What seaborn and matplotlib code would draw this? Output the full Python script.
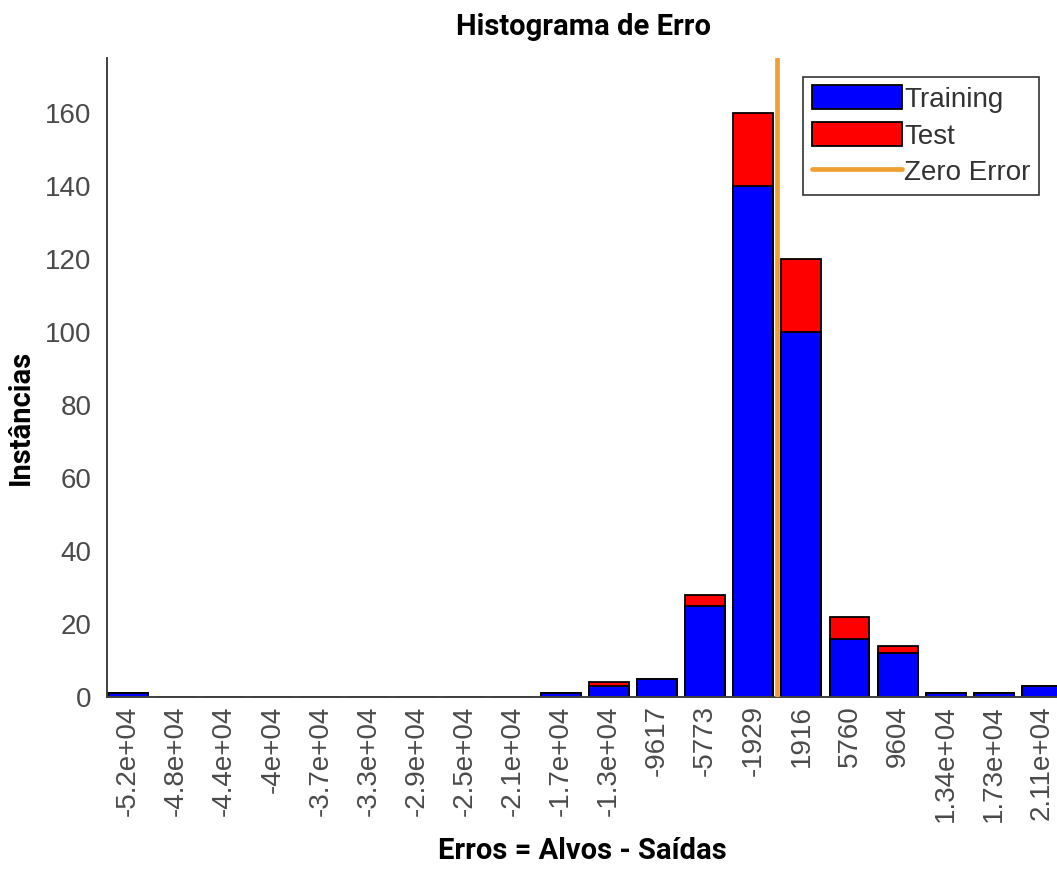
import matplotlib
matplotlib.use("Agg")
import matplotlib.pyplot as plt
from matplotlib.patches import Patch
from matplotlib.lines import Line2D
import seaborn as sns
import pandas as pd

# Error histogram: 20 bins, stacked Training + Test counts
bin_centers = [-51910, -48065, -44221, -40376, -36532, -32687, -28843, -24998,
               -21153, -17309, -13464, -9617, -5773, -1929, 1916, 5760, 9604,
               13448, 17293, 21137]
tick_labels = ["-5.2e+04", "-4.8e+04", "-4.4e+04", "-4e+04", "-3.7e+04",
               "-3.3e+04", "-2.9e+04", "-2.5e+04", "-2.1e+04", "-1.7e+04",
               "-1.3e+04", "-9617", "-5773", "-1929", "1916", "5760", "9604",
               "1.34e+04", "1.73e+04", "2.11e+04"]
training = [1, 0, 0, 0, 0, 0, 0, 0, 0, 1, 3, 5, 25, 140, 100, 16, 12, 1, 1, 3]
test = [0, 0, 0, 0, 0, 0, 0, 0, 0, 0, 1, 0, 3, 20, 20, 6, 2, 0, 0, 0]

df = pd.DataFrame({
    "center": bin_centers,
    "training": training,
    "total": [a + b for a, b in zip(training, test)],
})

sns.set_style("white")
plt.rcParams["font.family"] = ["Liberation Sans", "DejaVu Sans"]

fig = plt.figure(figsize=(10.57, 8.69), dpi=100)
ax = fig.add_axes([107 / 1057, (869 - 697) / 869, 1 - 107 / 1057, (697 - 58) / 869])

BLUE = "#0000ff"
RED = "#ff0000"
ORANGE = "#f0a030"

bar_kw = dict(native_scale=True, width=0.83, edgecolor="black", linewidth=1.3,
              ax=ax, errorbar=None)
# Test stacked on top of Training: draw the total first, then the Training part over it
sns.barplot(data=df, x="center", y="total", color=RED, saturation=1, **bar_kw)
sns.barplot(data=df, x="center", y="training", color=BLUE, saturation=1, **bar_kw)

ax.axvline(0, color=ORANGE, linewidth=3.4, zorder=5)

ax.set_xlim(-53590, 22345)
ax.set_ylim(0, 175)
ax.set_yticks(range(0, 161, 20))
ax.set_xticks(bin_centers)
ax.set_xticklabels(tick_labels, rotation=90)

tick_color = "#4a4a4a"
ax.tick_params(axis="both", direction="in", length=6, width=1.2,
               colors="#333333", labelcolor=tick_color, labelsize=20)
ax.tick_params(axis="y", pad=11)
ax.tick_params(axis="x", pad=6)
for side in ("top", "right"):
    ax.spines[side].set_visible(False)
for side in ("left", "bottom"):
    ax.spines[side].set_color("#404040")
    ax.spines[side].set_linewidth(1.4)

label_font = dict(family=["Roboto", "DejaVu Sans"], fontweight="bold",
                  fontsize=21, color="black")
ax.set_xlabel("Erros = Alvos - Saídas", labelpad=11, **label_font)
ax.set_ylabel("Instâncias", **label_font)
ax.yaxis.set_label_coords(-0.0758, 0.437)
fig.text(584 / 1057, 1 - 27 / 869, "Histograma de Erro", ha="center",
         va="center", **label_font)

handles = [
    Patch(facecolor=BLUE, edgecolor="black", linewidth=1.3, label="Training"),
    Patch(facecolor=RED, edgecolor="black", linewidth=1.3, label="Test"),
    Line2D([0], [0], color=ORANGE, linewidth=3.4, label="Zero Error"),
]
leg = ax.legend(handles=handles, loc="upper right",
                bbox_to_anchor=(1039 / 1057, 1 - 77 / 869),
                bbox_transform=fig.transFigure, fontsize=20,
                handlelength=3.25, handleheight=0.95, handletextpad=0.08,
                labelspacing=0.33, borderpad=0.3, borderaxespad=0,
                fancybox=False, framealpha=1, labelcolor="#333333")
leg.get_frame().set_edgecolor("#333333")
leg.get_frame().set_linewidth(1.2)

fig.savefig("out.png", dpi=100)
